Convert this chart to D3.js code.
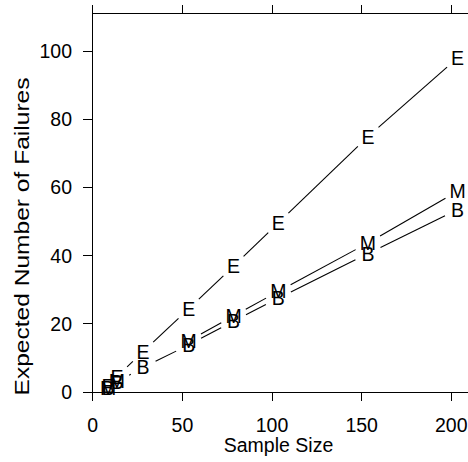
<!DOCTYPE html>
<html>
<head>
<meta charset="utf-8">
<script src="https://cdn.jsdelivr.net/npm/d3@7"></script>
<style>
  html, body { margin: 0; padding: 0; background: #fff; }
  svg { display: block; }
  text { font-family: "Liberation Sans", Arial, Helvetica, sans-serif; fill: #000; }
</style>
</head>
<body>
<svg id="chart" width="468" height="462"></svg>
<script>
// ---- data ----
const sampleSize = [8.5, 13.5, 28, 53.5, 78.5, 103.5, 153.5, 203.5];
const seriesE = [1.8, 4.5, 11.8, 24.4, 36.9, 49.6, 74.9, 98.0];
const seriesM = [1.2, 3.2, null, 15.0, 22.3, 29.5, 43.7, 58.9];
const seriesB = [1.1, 2.9, 7.2, 13.8, 20.8, 27.5, 40.6, 53.5];
const seriesLabels = ["E", "M", "B"];
const xTicks = [0, 50, 100, 150, 200];
const yTicks = [0, 20, 40, 60, 80, 100];
const xTitle = "Sample Size";
const yTitle = "Expected Number of Failures";

const svg = d3.select("#chart");
const W = 468, H = 462;
svg.append("rect").attr("width", W).attr("height", H).attr("fill", "#fff");

const x = d3.scaleLinear().domain([0, 200]).range([92.8, 451.3]);
const y = d3.scaleLinear().domain([0, 100]).range([392, 51]);
const yTop = y.invert(13);

const fs = 19.5;

// axes lines
const ax = svg.append("g").attr("stroke", "#000").attr("stroke-width", 1).attr("shape-rendering", "crispEdges");
ax.append("line").attr("x1", x(0)).attr("x2", x(0)).attr("y1", y(yTop)).attr("y2", y(0));
ax.append("line").attr("x1", x(0)).attr("x2", W).attr("y1", y(yTop)).attr("y2", y(yTop));
ax.append("line").attr("x1", x(0)).attr("x2", W).attr("y1", y(0)).attr("y2", y(0));

// top ticks (upward)
ax.selectAll(".tt").data(xTicks).enter().append("line")
  .attr("x1", d => x(d)).attr("x2", d => x(d))
  .attr("y1", y(yTop)).attr("y2", y(yTop) - 8);
// bottom ticks (downward)
ax.selectAll(".bt").data(xTicks).enter().append("line")
  .attr("x1", d => x(d)).attr("x2", d => x(d))
  .attr("y1", y(0)).attr("y2", y(0) + 9);
// left ticks
ax.selectAll(".lt").data(yTicks).enter().append("line")
  .attr("x1", x(0) - 10).attr("x2", x(0))
  .attr("y1", d => y(d)).attr("y2", d => y(d));

// tick labels
svg.selectAll(".xl").data(xTicks).enter().append("text")
  .attr("x", d => x(d)).attr("y", 432)
  .attr("text-anchor", "middle").attr("font-size", fs)
  .text(d => d);
svg.selectAll(".yl").data(yTicks).enter().append("text")
  .attr("x", 72).attr("y", d => y(d) + 7)
  .attr("text-anchor", "end").attr("font-size", fs)
  .text(d => d);

// titles
svg.append("text").attr("x", 278.5).attr("y", 452)
  .attr("text-anchor", "middle").attr("font-size", fs).text(xTitle);
svg.append("text")
  .attr("transform", "translate(28.5,236.5) rotate(-90)")
  .attr("text-anchor", "middle").attr("font-size", 19.5)
  .attr("textLength", 318).attr("lengthAdjust", "spacingAndGlyphs")
  .text(yTitle);

// series: type "b" (lines with gaps + letters)
const gap = 14;
const series = [seriesE, seriesM, seriesB];
series.forEach((vals, si) => {
  const pts = sampleSize.map((s, i) => ({ s, v: vals[i] }));
  const g = svg.append("g");
  for (let i = 0; i < pts.length - 1; i++) {
    const a = pts[i], b = pts[i + 1];
    if (a.v == null || b.v == null) continue;
    const x1 = x(a.s), y1 = y(a.v), x2 = x(b.s), y2 = y(b.v);
    const dx = x2 - x1, dy = y2 - y1, d = Math.hypot(dx, dy);
    if (d <= 2 * gap) continue;
    const ux = dx / d, uy = dy / d;
    g.append("line")
      .attr("x1", x1 + ux * gap).attr("y1", y1 + uy * gap)
      .attr("x2", x2 - ux * gap).attr("y2", y2 - uy * gap)
      .attr("stroke", "#000").attr("stroke-width", 1.1);
  }
  g.selectAll("text").data(pts.filter(p => p.v != null)).enter().append("text")
    .attr("x", p => x(p.s)).attr("y", p => y(p.v) + 7)
    .attr("text-anchor", "middle").attr("font-size", fs)
    .text(seriesLabels[si]);
});
</script>
</body>
</html>
